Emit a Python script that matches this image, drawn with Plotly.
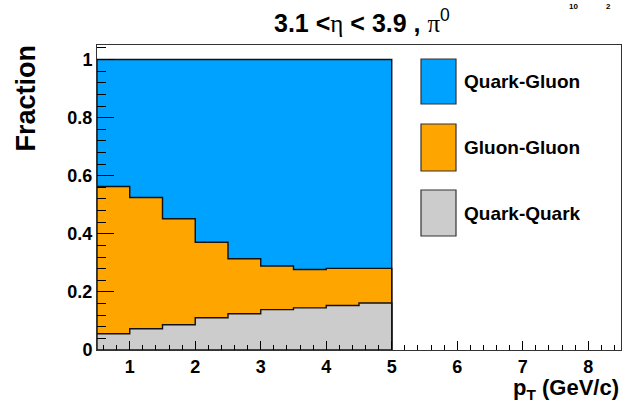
import numpy as np
import plotly.graph_objects as go

# pT binning (GeV/c) and per-process fractions in each bin
pt_edges = [0.5, 1.0, 1.5, 2.0, 2.5, 3.0, 3.5, 4.0, 4.5, 5.0]
frac_qq = [0.056, 0.073, 0.087, 0.111, 0.125, 0.139, 0.145, 0.153, 0.162]
frac_gg = [0.507, 0.452, 0.365, 0.260, 0.189, 0.150, 0.132, 0.128, 0.119]
frac_qg = [0.437, 0.475, 0.548, 0.629, 0.686, 0.711, 0.723, 0.719, 0.719]

process_names = ["Quark-Gluon", "Gluon-Gluon", "Quark-Quark"]
process_colors = ["#00a2ff", "#ffa500", "#cccccc"]

y_ticks = [0, 0.2, 0.4, 0.6, 0.8, 1.0]
x_ticks = [1, 2, 3, 4, 5, 6, 7, 8]

FONT = "Liberation Sans"
GREEK = "font-family:'Liberation Serif'"
W, H = 629, 402
ML, MR, MT, MB = 97, 8, 45, 52
PW, PH = W - ML - MR, H - MT - MB


def px_x(p):
    return (p - ML) / PW


def px_y(p):
    return (H - MB - p) / PH


def step_outline(edges, heights):
    """Closed histogram outline from the first edge along the bins and back to zero."""
    xs, ys = [edges[0]], [0.0]
    for i, h in enumerate(heights):
        xs += [edges[i], edges[i + 1]]
        ys += [h, h]
    xs += [edges[-1], edges[0]]
    ys += [0.0, 0.0]
    return xs, ys


qq = np.array(frac_qq)
gg = np.array(frac_gg)
qg = np.array(frac_qg)
stack_levels = [qq + gg + qg, qq + gg, qq]  # drawn back to front

fig = go.Figure()
for name, color, level in zip(process_names, process_colors, stack_levels):
    xs, ys = step_outline(pt_edges, level)
    fig.add_trace(go.Scatter(
        x=xs, y=ys, mode="lines", fill="toself", fillcolor=color,
        line=dict(color="#111111", width=1.4), name=name,
        hoverinfo="skip", showlegend=False,
    ))

# legend: swatches and labels
shapes = []
annotations = []
sw_x0, sw_x1 = 421, 456
sw_rows = [(59, 104), (124, 171), (190, 236)]
for name, color, (ya, yb) in zip(process_names, process_colors, sw_rows):
    shapes.append(dict(
        type="rect", xref="paper", yref="paper",
        x0=px_x(sw_x0), x1=px_x(sw_x1), y0=px_y(yb), y1=px_y(ya),
        fillcolor=color, line=dict(color="#333333", width=1.2),
    ))
    annotations.append(dict(
        xref="paper", yref="paper", x=px_x(462), y=px_y((ya + yb) / 2),
        xanchor="left", yanchor="middle", showarrow=False,
        text=f"<b>{name}</b>", font=dict(family=FONT, size=19, color="black"),
    ))

# title
annotations.append(dict(
    xref="paper", yref="paper", x=px_x(362), y=px_y(39),
    xanchor="center", yanchor="bottom", showarrow=False,
    text=(f"<b>3.1 &lt;</b><span style=\"{GREEK}\">η</span>"
          f"<b> &lt; 3.9 , </b><span style=\"{GREEK}\">π</span><sup>0</sup>"),
    font=dict(family=FONT, size=25, color="black"),
))

# axis titles
annotations.append(dict(
    xref="paper", yref="paper", x=px_x(25), y=px_y(43),
    xanchor="center", yanchor="top", textangle=-90, showarrow=False,
    text="<b>Fraction</b>", font=dict(family=FONT, size=27, color="black"),
))
annotations.append(dict(
    xref="paper", yref="paper", x=px_x(621), y=px_y(389),
    xanchor="right", yanchor="middle", showarrow=False,
    text="<b>p<sub>T</sub> (GeV/c)</b>", font=dict(family=FONT, size=22, color="black"),
))

# exponent label at the top edge
annotations.append(dict(
    xref="paper", yref="paper", x=px_x(573), y=px_y(0),
    xanchor="center", yanchor="top", showarrow=False,
    text="<b>10</b>", font=dict(family=FONT, size=8, color="black"),
))
annotations.append(dict(
    xref="paper", yref="paper", x=px_x(608), y=px_y(0),
    xanchor="center", yanchor="top", showarrow=False,
    text="<b>2</b>", font=dict(family=FONT, size=8, color="black"),
))

tickfont = dict(family=FONT, size=18, color="black", weight="bold")

fig.update_layout(
    width=W, height=H,
    margin=dict(l=ML, r=MR, t=MT, b=MB, pad=0),
    paper_bgcolor="white", plot_bgcolor="white",
    showlegend=False,
    shapes=shapes, annotations=annotations,
    xaxis=dict(
        range=[0.5, 8.5], tickmode="array", tickvals=x_ticks,
        ticks="inside", ticklen=9, tickwidth=1, tickcolor="black",
        showline=True, mirror=True, linecolor="#333333", linewidth=1,
        showgrid=False, zeroline=False, tickfont=tickfont,
        minor=dict(ticks="inside", ticklen=5, tick0=0, dtick=0.2,
                   tickcolor="black", showgrid=False),
    ),
    yaxis=dict(
        range=[0, 1.05], tickmode="array", tickvals=y_ticks,
        ticktext=["0", "0.2", "0.4", "0.6", "0.8", "1"],
        ticks="inside", ticklen=17, tickwidth=1, tickcolor="black",
        showline=True, mirror=True, linecolor="#333333", linewidth=1,
        showgrid=False, zeroline=False, tickfont=tickfont,
        minor=dict(ticks="inside", ticklen=9, tick0=0, dtick=0.04,
                   tickcolor="black", showgrid=False),
    ),
)

fig.write_html("out.html")
